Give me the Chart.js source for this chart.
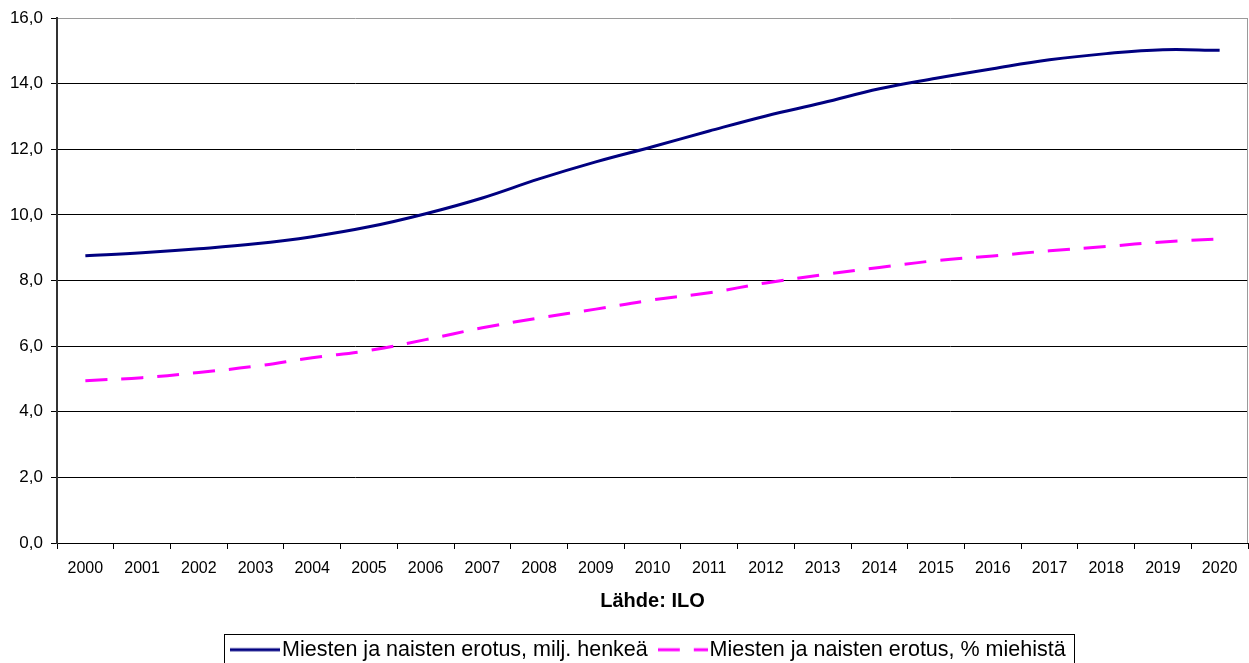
<!DOCTYPE html>
<html>
<head>
<meta charset="utf-8">
<script src="https://cdn.jsdelivr.net/npm/chart.js@4/dist/chart.umd.min.js"></script>
<style>
  html, body { margin: 0; padding: 0; background: #fff; }
  #wrap { width: 1249px; height: 663px; position: relative; }
</style>
</head>
<body>
<div id="wrap"><canvas id="c"></canvas></div>
<script>
const years = ['2000','2001','2002','2003','2004','2005','2006','2007','2008','2009','2010',
               '2011','2012','2013','2014','2015','2016','2017','2018','2019','2020'];
const diffMillions = [8.76, 8.85, 8.97, 9.12, 9.34, 9.64, 10.04, 10.52, 11.10, 11.62, 12.08,
                      12.56, 13.02, 13.42, 13.85, 14.17, 14.46, 14.73, 14.92, 15.04, 15.02];
const diffPercent = [4.95, 5.04, 5.20, 5.39, 5.65, 5.87, 6.20, 6.56, 6.86, 7.13, 7.41,
                     7.63, 7.93, 8.18, 8.40, 8.61, 8.75, 8.91, 9.04, 9.18, 9.27];
const seriesLabels = ['Miesten ja naisten erotus, milj. henkeä', 'Miesten ja naisten erotus, % miehistä'];
const axisTitle = 'Lähde: ILO';
const yMin = 0, yMax = 16, yStep = 2;

const FONT = "'Liberation Sans', Arial, Helvetica, sans-serif";

// legend swatch images (line samples)
function swatch(color, dash) {
  const cv = document.createElement('canvas');
  cv.width = 50; cv.height = 6;
  const g = cv.getContext('2d');
  g.strokeStyle = color;
  g.lineWidth = 3;
  g.setLineDash(dash);
  g.beginPath();
  g.moveTo(0, 3);
  g.lineTo(50, 3);
  g.stroke();
  return cv;
}
const swatches = [swatch('#000080', []), swatch('#ff00ff', [22, 14])];

const frame = {
  id: 'frame',
  beforeDatasetsDraw(chart) {
    const {ctx, chartArea: a} = chart;
    ctx.save();
    ctx.strokeStyle = '#9a9a9a';
    ctx.lineWidth = 1;
    ctx.beginPath();
    ctx.moveTo(a.right - 0.5, a.top);
    ctx.lineTo(a.right - 0.5, a.bottom);
    ctx.stroke();
    ctx.restore();
  },
  afterDraw(chart) {
    const lg = chart.legend;
    if (!lg || !lg.legendHitBoxes || !lg.legendHitBoxes.length) return;
    const hb = lg.legendHitBoxes;
    const l = Math.min(...hb.map(b => b.left)) - 15;
    const r = Math.max(...hb.map(b => b.left + b.width)) + 9;
    const t = lg.top + 14;
    const ctx = chart.ctx;
    ctx.save();
    ctx.strokeStyle = '#000';
    ctx.lineWidth = 1;
    ctx.strokeRect(Math.round(l) + 0.5, Math.round(t) + 0.5, Math.round(r - l), 80);
    ctx.restore();
  }
};

new Chart(document.getElementById('c'), {
  type: 'line',
  data: {
    labels: years,
    datasets: [
      {
        label: seriesLabels[0],
        data: diffMillions,
        borderColor: '#000080',
        backgroundColor: '#000080',
        borderWidth: 3,
        pointRadius: 0,
        tension: 0.4,
        fill: false
      },
      {
        label: seriesLabels[1],
        data: diffPercent,
        borderColor: '#ff00ff',
        backgroundColor: '#ff00ff',
        borderWidth: 3,
        borderDash: [22, 14],
        pointRadius: 0,
        tension: 0.4,
        fill: false
      }
    ]
  },
  options: {
    responsive: true,
    maintainAspectRatio: false,
    animation: false,
    devicePixelRatio: 1,
    layout: { padding: { left: 0, top: 17, right: 1, bottom: 0 } },
    plugins: {
      tooltip: { enabled: false },
      legend: {
        position: 'bottom',
        fullSize: false,
        maxHeight: 43,
        labels: {
          font: { family: FONT, size: 21.5 },
          color: '#000',
          usePointStyle: true,
          pointStyleWidth: 32,
          padding: 19,
          generateLabels(chart) {
            return chart.data.datasets.map((ds, i) => ({
              text: ds.label,
              fillStyle: ds.borderColor,
              strokeStyle: ds.borderColor,
              lineWidth: 0,
              pointStyle: swatches[i],
              fontColor: '#000',
              hidden: !chart.isDatasetVisible(i),
              datasetIndex: i
            }));
          }
        }
      }
    },
    scales: {
      x: {
        type: 'category',
        offset: true,
        grid: {
          offset: true,
          drawOnChartArea: false,
          drawTicks: true,
          tickLength: 6,
          color: '#000'
        },
        border: { display: true, color: '#000', width: 1 },
        ticks: {
          color: '#000',
          font: { family: FONT, size: 16 },
          padding: 10,
          maxRotation: 0,
          autoSkip: false
        },
        title: {
          display: true,
          text: axisTitle,
          color: '#000',
          font: { family: FONT, size: 20, weight: 'bold' },
          padding: { top: 7, bottom: 7 }
        },
        afterFit(scale) { scale.height = 77; }
      },
      y: {
        min: yMin,
        max: yMax,
        grid: {
          color: (c) => (c.tick && c.tick.value === yMax) ? '#9a9a9a' : '#000',
          drawTicks: true,
          tickLength: 6,
          tickColor: '#000'
        },
        border: { display: true, color: '#333', width: 2 },
        ticks: {
          stepSize: yStep,
          color: '#000',
          font: { family: FONT, size: 17 },
          padding: 8,
          callback: (v) => Number(v).toFixed(1).replace('.', ',')
        },
        afterFit(scale) { scale.width = 57; }
      }
    }
  },
  plugins: [frame]
});
</script>
</body>
</html>
